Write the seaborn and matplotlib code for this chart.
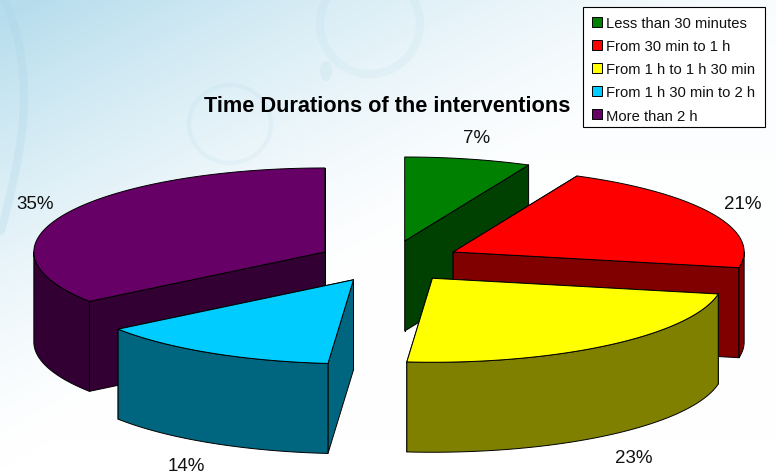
import numpy as np
import matplotlib
matplotlib.use("Agg")
import matplotlib.pyplot as plt
from matplotlib.patches import Patch, Ellipse, Rectangle
import seaborn as sns

categories = ["Less than 30 minutes", "From 30 min to 1 h", "From 1 h to 1 h 30 min",
              "From 1 h 30 min to 2 h", "More than 2 h"]
values = [7.0, 21.0, 23.4, 13.6, 35.0]
top_colors = ["#008000", "#ff0000", "#ffff00", "#00ccff", "#660066"]
side_colors = ["#004000", "#800000", "#808000", "#006680", "#330033"]
title = "Time Durations of the interventions"
label_xy = [(477, 138), (743, 204), (634, 458), (186, 466), (35, 204)]

sns.set_style("white")
plt.rcParams["font.family"] = ["Liberation Sans", "DejaVu Sans"]

W, H = 776, 477
fig = plt.figure(figsize=(W / 100, H / 100), dpi=100)
ax = fig.add_axes([0, 0, 1, 1])
ax.set_xlim(0, W)
ax.set_ylim(H, 0)
ax.axis("off")

# soft background wash
yy, xx = np.mgrid[0:H, 0:W]
t = np.clip(1 - xx / 820.0 - yy / 470.0, 0, 1) ** 1.4
t = t + 0.07 * np.clip(1 - yy / 440.0, 0, 1) ** 2
t = np.clip(t, 0, 1)[..., None]
bg = np.array([1.0, 1.0, 1.0]) * (1 - t) + np.array([0.72, 0.87, 0.93]) * t
ax.imshow(bg, extent=(0, W, H, 0), aspect="auto", zorder=0, interpolation="bilinear")

# faint decorative swirl of the slide background
sw = "#a9d3e6"
sy = np.linspace(0, 240, 60)
ax.plot(30 * np.sin((sy + 6) / 76.0) ** 0.8 * (1 - sy / 520.0), sy, color=sw, lw=6, alpha=0.25, zorder=1)
ax.add_patch(Ellipse((230, 125), 82, 78, fill=False, ec=sw, lw=3, alpha=0.14, zorder=1))
ax.add_patch(Ellipse((370, 25), 100, 100, fill=False, ec=sw, lw=6, alpha=0.12, zorder=1))
ax.add_patch(Ellipse((326, 72), 12, 20, fill=True, fc=sw, ec="none", alpha=0.18, zorder=1))

# 3-D exploded pie geometry
cx, cy = 389, 262.5
rx, ry = 291, 84
ex, ey = 72, 21
depth = 90
lw = 0.7


def pt(center, th, r=1.0):
    return center[0] + r * rx * np.sin(th), center[1] - r * ry * np.cos(th)


def poly(xs, ys, color, z):
    ax.fill(xs, ys, facecolor=color, edgecolor="black", linewidth=lw, zorder=z, joinstyle="round")


edges = np.deg2rad(np.concatenate([[0], np.cumsum(values)]) * 3.6)
draw_order = [0, 1, 2, 4, 3]
z = 2
for i in draw_order:
    a0, a1 = edges[i], edges[i + 1]
    mid = (a0 + a1) / 2
    c = (cx + ex * np.sin(mid), cy - ey * np.cos(mid))
    faces = [(a0, np.sin(a0) < 0), (a1, np.sin(a1) > 0)]
    faces.sort(key=lambda f: f[1])
    for a, _ in faces:
        px, py = pt(c, a)
        poly([c[0], px, px, c[0]], [c[1], py, py + depth, c[1] + depth], side_colors[i], z)
        z += 1
    lo, hi = max(a0, np.pi / 2), min(a1, 3 * np.pi / 2)
    if hi > lo:
        th = np.linspace(lo, hi, 80)
        wx, wy = pt(c, th)
        poly(np.r_[wx, wx[::-1]], np.r_[wy, wy[::-1] + depth], side_colors[i], z)
        z += 1
    th = np.linspace(a0, a1, 120)
    tx, ty = pt(c, th)
    poly(np.r_[c[0], tx], np.r_[c[1], ty], top_colors[i], z)
    z += 1

for v, (lx, ly) in zip(values, label_xy):
    ax.text(lx, ly + 1, f"{v:.0f}%", ha="center", va="center", fontsize=13.5, color="#111111", zorder=50)

ax.text(387, 106, title, ha="center", va="center", fontsize=15.7, fontweight="bold",
        color="black", zorder=50)

ax.add_patch(Rectangle((583, 8), 182, 120, facecolor="white", edgecolor="black", linewidth=0.8, zorder=59))
handles = [Patch(facecolor=col, edgecolor="black", linewidth=0.7, label=c)
           for col, c in zip(top_colors, categories)]
leg = ax.legend(handles=handles, loc="upper left", bbox_to_anchor=(583 / W, 1 - 8 / H),
                bbox_transform=fig.transFigure, frameon=False, fontsize=10.65, labelspacing=0.62,
                handlelength=0.68, handleheight=0.68, handletextpad=0.27, borderpad=0.6,
                borderaxespad=0, labelcolor="#111111")
leg.set_zorder(60)

fig.savefig("out.png", dpi=100)
